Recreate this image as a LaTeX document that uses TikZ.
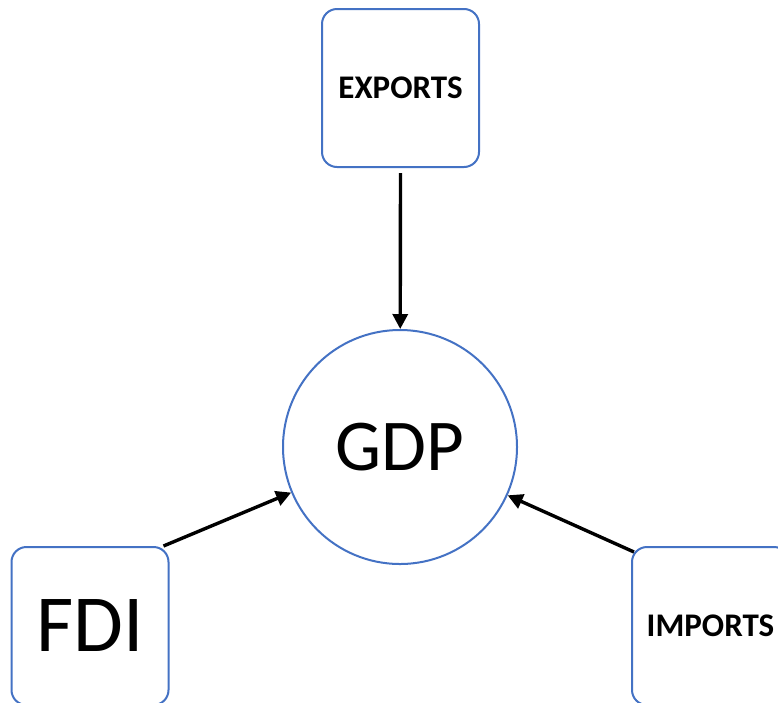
\documentclass[tikz,border=0pt]{standalone}
\usepackage{fontspec}
\setmainfont{Carlito}
\usetikzlibrary{arrows.meta}
\definecolor{boxblue}{HTML}{4472C4}
\begin{document}
\begin{tikzpicture}[x=1pt,y=-1pt,
  box/.style={draw=boxblue,line width=2pt,rounded corners=15pt,fill=white,
    minimum width=157pt,minimum height=158pt,inner sep=0pt,text=black},
  small/.style={font=\fontsize{33}{38}\selectfont\bfseries},
  conn/.style={line width=3.4pt,-{Triangle[length=15pt,width=15pt]}}]
\useasboundingbox (0,0) rectangle (778,702);
\begin{scope}
\clip (0,0) rectangle (778,702);
\node[box,small] (exports) at (400.5,88) {EXPORTS};
\node[draw=boxblue,line width=2pt,circle,minimum size=234pt,inner sep=0pt,
  font=\fontsize{73}{80}\selectfont] (gdp) at (400,447) {GDP};
\node[box,font=\fontsize{81}{90}\selectfont] (fdi) at (90,626) {FDI};
\node[box,small] (imports) at (710.5,626) {IMPORTS};
\coordinate (ex) at ([yshift=-5pt]exports.south);
\coordinate (fx) at ([xshift=-6pt]fdi.north east);
\coordinate (ix) at ([xshift=3pt,yshift=-6pt]imports.north west);
\draw[conn] (ex) -- (gdp);
\draw[conn] (fx) -- (gdp);
\draw[conn] (ix) -- (gdp);
\end{scope}
\end{tikzpicture}
\end{document}
